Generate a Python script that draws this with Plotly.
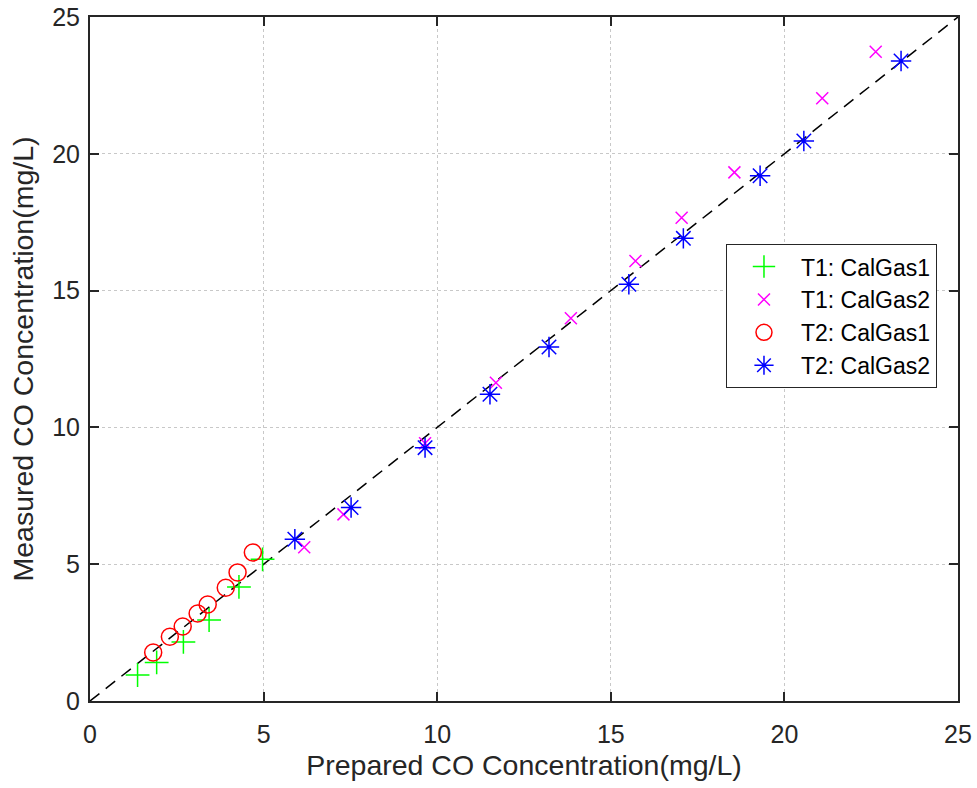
import plotly.graph_objects as go

# Data
t1_gas1_x = [1.37, 1.92, 2.69, 3.43, 4.29, 4.97]
t1_gas1_y = [0.95, 1.41, 2.16, 2.96, 4.17, 5.18]

t1_gas2_x = [6.17, 7.30, 9.65, 11.69, 13.85, 15.71, 17.04, 18.56, 21.09, 22.63]
t1_gas2_y = [5.62, 6.82, 9.42, 11.63, 13.99, 16.08, 17.66, 19.32, 22.03, 23.73]

t2_gas1_x = [1.82, 2.30, 2.67, 3.10, 3.39, 3.91, 4.25, 4.69]
t2_gas1_y = [1.77, 2.35, 2.72, 3.20, 3.53, 4.14, 4.70, 5.43]

t2_gas2_x = [5.90, 7.52, 9.65, 11.52, 13.22, 15.52, 17.09, 19.30, 20.56, 23.36]
t2_gas2_y = [5.91, 7.07, 9.26, 11.21, 12.94, 15.23, 16.91, 19.20, 20.47, 23.39]

ref_line = [0, 25]
ticks = [0, 5, 10, 15, 20, 25]

FONT = "Liberation Sans, Arial, Helvetica"
DARK = "#262626"

fig = go.Figure()

fig.add_trace(go.Scatter(x=ref_line, y=ref_line, mode="lines",
                         line=dict(color="black", width=1.5, dash="12px,8px"),
                         showlegend=False, hoverinfo="skip"))

fig.add_trace(go.Scatter(x=t1_gas1_x, y=t1_gas1_y, mode="markers", name="T1: CalGas1",
                         marker=dict(symbol="cross-thin-open", size=17, color="#00ff00",
                                     line=dict(color="#00ff00", width=1.5))))
fig.add_trace(go.Scatter(x=t1_gas2_x, y=t1_gas2_y, mode="markers", name="T1: CalGas2",
                         marker=dict(symbol="x-thin-open", size=12, color="#ff00ff",
                                     line=dict(color="#ff00ff", width=1.5))))
fig.add_trace(go.Scatter(x=t2_gas1_x, y=t2_gas1_y, mode="markers", name="T2: CalGas1",
                         marker=dict(symbol="circle-open", size=17, color="#ff0000",
                                     line=dict(color="#ff0000", width=1.5))))
fig.add_trace(go.Scatter(x=t2_gas2_x, y=t2_gas2_y, mode="markers", name="T2: CalGas2",
                         marker=dict(symbol="asterisk-open", size=17, color="#0000ff",
                                     line=dict(color="#0000ff", width=1.5))))

axis_common = dict(
    range=[0, 25], tickvals=ticks, ticks="inside", ticklen=9, tickwidth=2,
    tickcolor=DARK, showline=True, linecolor=DARK, linewidth=2,
    mirror="ticks", showgrid=True, gridcolor="#c8c8c8", griddash="dot",
    gridwidth=1, zeroline=False, automargin=False,
    tickfont=dict(family=FONT, size=25, color=DARK),
)

fig.update_layout(
    width=977, height=788,
    margin=dict(l=90, r=19, t=17, b=87),
    plot_bgcolor="white", paper_bgcolor="white",
    xaxis=dict(title=dict(text="Prepared CO Concentration(mg/L)", standoff=8,
                          font=dict(family=FONT, size=28.5, color=DARK)),
               ticklabelstandoff=10, **axis_common),
    yaxis=dict(title=dict(text="Measured CO Concentration(mg/L)", standoff=10,
                          font=dict(family=FONT, size=28.5, color=DARK)),
               ticklabelstandoff=3, **axis_common),
    legend=dict(x=0.7327, y=0.668, xanchor="left", yanchor="top",
                bgcolor="white", bordercolor=DARK, borderwidth=1,
                font=dict(family=FONT, size=23, color="black"),
                itemsizing="trace", itemwidth=64, tracegroupgap=2),
    showlegend=True,
)

fig.write_html("out.html")
